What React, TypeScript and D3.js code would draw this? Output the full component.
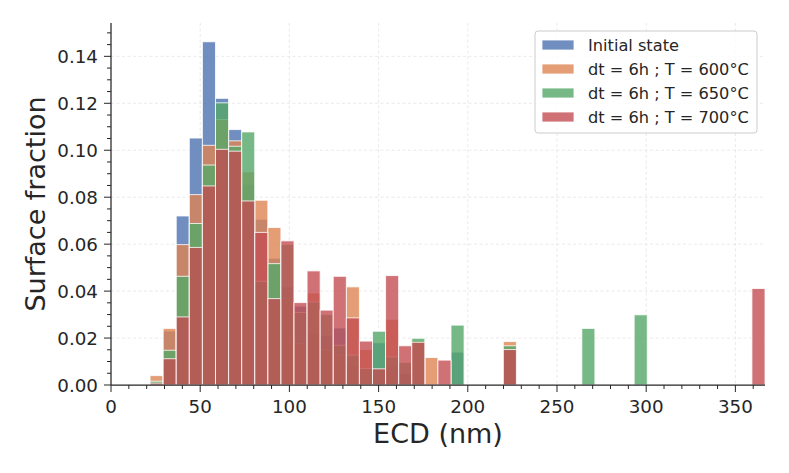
import * as d3 from "d3";

// histogram bins (ECD, nm) shared by every series
const binLo = 21.9;
const binHi = 366.6;
const nBins = 47;

const seriesNames = [
  "Initial state",
  "dt = 6h ; T = 600°C",
  "dt = 6h ; T = 650°C",
  "dt = 6h ; T = 700°C",
];
const colors = ["#4C72B0", "#DD8452", "#55A868", "#C44E52"];

// surface fraction per bin
const initialState = [
  0, 0.023, 0.072, 0.1052, 0.1462, 0.1221, 0.1088, 0.0855, 0.0706, 0.054,
  0.0418, 0.0336, 0.022, 0.0212, 0.0243, 0.008, 0, 0.018, 0.008, 0.005,
  0, 0, 0, 0.014, 0, 0, 0, 0.015, 0, 0,
  0, 0, 0, 0, 0, 0, 0, 0, 0, 0,
  0, 0, 0, 0, 0, 0, 0,
];
const t600 = [
  0.004, 0.0241, 0.0598, 0.0811, 0.1021, 0.1131, 0.104, 0.0908, 0.0787, 0.0671,
  0.037, 0.0177, 0.0392, 0.015, 0.0127, 0.0418, 0.0151, 0, 0.028, 0,
  0.0189, 0.0117, 0, 0, 0, 0, 0, 0.0185, 0, 0,
  0, 0, 0, 0, 0, 0, 0, 0, 0, 0,
  0, 0, 0, 0, 0, 0, 0,
];
const t650 = [
  0.0016, 0.0148, 0.0463, 0.0688, 0.0937, 0.1202, 0.1017, 0.1078, 0.0442, 0.0517,
  0.0598, 0.0309, 0.0354, 0.03, 0.0169, 0.0127, 0.007, 0.0229, 0.012, 0.0096,
  0.0199, 0, 0, 0.0255, 0, 0, 0, 0.0167, 0, 0,
  0, 0, 0, 0.0241, 0, 0, 0, 0.0299, 0, 0,
  0, 0, 0, 0, 0, 0, 0,
];
const t700 = [
  0.0008, 0.0112, 0.029, 0.0586, 0.0848, 0.1004, 0.0996, 0.0784, 0.065, 0.0368,
  0.0614, 0.0351, 0.0486, 0.0319, 0.0463, 0.0286, 0.0187, 0.0069, 0.0466, 0.0167,
  0.0182, 0, 0.0106, 0, 0, 0, 0, 0.0151, 0, 0,
  0, 0, 0, 0, 0, 0, 0, 0, 0, 0,
  0, 0, 0, 0, 0, 0, 0.0411,
];
const allSeries = [initialState, t600, t650, t700];

const xTicks = [0, 50, 100, 150, 200, 250, 300, 350];
const yTicks = [0, 0.02, 0.04, 0.06, 0.08, 0.1, 0.12, 0.14];

const W = 789;
const H = 473;
const font = "DejaVu Sans, sans-serif";
const ink = "#262626";

export default function App() {
  const left = 111, right = 765, top = 23, bottom = 385;
  const x = d3.scaleLinear().domain([0, 366.6]).range([left, right]);
  const y = d3.scaleLinear().domain([0, 0.1542]).range([bottom, top]);

  const binW = (binHi - binLo) / nBins;
  const edges = d3.range(nBins + 1).map((i) => binLo + i * binW);

  const xMinor = d3.range(0, 367, 10).filter((v) => v % 50 !== 0);
  const yMinor = d3.range(0, 0.1541, 0.005).filter((v) => Math.round(v * 1000) % 20 !== 0);

  return (
    <div style={{ position: "fixed", left: 0, top: 0 }}>
      <svg width={W} height={H} style={{ display: "block", background: "#fff" }}>
        {/* grid */}
        <g stroke="#e3e3e3" strokeWidth={0.8} strokeDasharray="3,2.5">
          {xTicks.filter((v) => v > 0).map((v) => (
            <line key={"gx" + v} x1={x(v)} x2={x(v)} y1={top} y2={bottom} />
          ))}
          {yTicks.filter((v) => v > 0).map((v) => (
            <line key={"gy" + v} x1={left} x2={right} y1={y(v)} y2={y(v)} />
          ))}
        </g>

        {/* bars, one series after another */}
        {allSeries.map((vals, s) => (
          <g key={"s" + s}>
            {vals.map((v, i) =>
              v > 0 ? (
                <rect
                  key={i}
                  x={x(edges[i])}
                  y={y(v)}
                  width={x(edges[i + 1]) - x(edges[i])}
                  height={y(0) - y(v)}
                  fill={colors[s]}
                  fillOpacity={0.8}
                  stroke="#fff"
                  strokeOpacity={0.8}
                  strokeWidth={1}
                />
              ) : null
            )}
          </g>
        ))}

        {/* spines */}
        <g stroke={ink} strokeWidth={1.25}>
          <line x1={left} x2={left} y1={top} y2={bottom} />
          <line x1={left} x2={right} y1={bottom} y2={bottom} />
        </g>

        {/* ticks */}
        <g stroke={ink} strokeWidth={1}>
          {xTicks.map((v) => (
            <line key={"xt" + v} x1={x(v)} x2={x(v)} y1={bottom} y2={bottom + 7} />
          ))}
          {xMinor.map((v) => (
            <line key={"xm" + v} x1={x(v)} x2={x(v)} y1={bottom} y2={bottom + 4} />
          ))}
          {yTicks.map((v) => (
            <line key={"yt" + v} x1={left - 7} x2={left} y1={y(v)} y2={y(v)} />
          ))}
          {yMinor.map((v) => (
            <line key={"ym" + v} x1={left - 4} x2={left} y1={y(v)} y2={y(v)} />
          ))}
        </g>

        <g fontFamily={font} fontSize={18.3} fill={ink}>
          {xTicks.map((v) => (
            <text key={"xl" + v} x={x(v)} y={bottom + 27.5} textAnchor="middle">
              {v}
            </text>
          ))}
          {yTicks.map((v) => (
            <text key={"yl" + v} x={left - 13} y={y(v) + 6.6} textAnchor="end">
              {d3.format(".2f")(v)}
            </text>
          ))}
        </g>

        <text
          x={(left + right) / 2}
          y={443}
          textAnchor="middle"
          fontFamily={font}
          fontSize={27}
          fill={ink}
        >
          ECD (nm)
        </text>
        <text
          transform={`translate(45,${(top + bottom) / 2}) rotate(-90)`}
          textAnchor="middle"
          fontFamily={font}
          fontSize={27}
          fill={ink}
        >
          Surface fraction
        </text>

        {/* legend */}
        <g fontFamily={font} fontSize={16.2} fill={ink}>
          <rect x={535} y={31} width={222} height={102} rx={3} fill="#fff" fillOpacity={0.8} stroke="#cccccc" strokeWidth={1} />
          {seriesNames.map((name, i) => (
            <g key={name} transform={`translate(0,${45 + i * 24})`}>
              <rect x={542} y={-5} width={32} height={10} fill={colors[i]} fillOpacity={0.8} stroke="#fff" strokeOpacity={0.8} strokeWidth={1} />
              <text x={588} y={5.9}>{name}</text>
            </g>
          ))}
        </g>
      </svg>
    </div>
  );
}
